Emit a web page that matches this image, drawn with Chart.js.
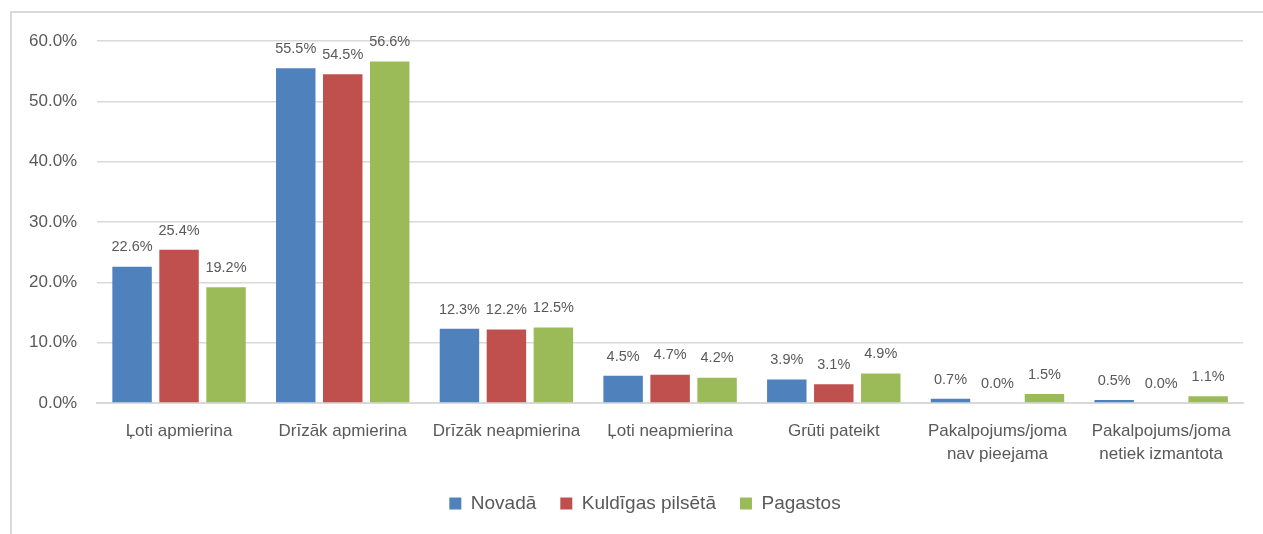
<!DOCTYPE html>
<html>
<head>
<meta charset="utf-8">
<script src="https://cdn.jsdelivr.net/npm/chart.js@4.4.1/dist/chart.umd.min.js"></script>
<style>
    body { margin: 0; background: #fff; overflow: hidden; }
    #frame {
        position: absolute; left: 10px; top: 11px;
        width: 1300px; height: 600px;
        border: 2px solid #d9d9d9; box-sizing: border-box;
    }
    #wrap { position: absolute; left: 0; top: 0; width: 1263px; height: 534px; }
</style>
</head>
<body>
<div id="frame"></div>
<div id="wrap"><canvas id="chartApmierinatiba"></canvas></div>
<script>
// Kategorijas (x ass)
const kategorijas = [
    'Ļoti apmierina',
    'Drīzāk apmierina',
    'Drīzāk neapmierina',
    'Ļoti neapmierina',
    'Grūti pateikt',
    ['Pakalpojums/joma', 'nav pieejama'],
    ['Pakalpojums/joma', 'netiek izmantota']
];

// Sērijas
const novada = [22.6, 55.5, 12.3, 4.5, 3.9, 0.7, 0.5];
const kuldigasPilseta = [25.4, 54.5, 12.2, 4.7, 3.1, 0.0, 0.0];
const pagastos = [19.2, 56.6, 12.5, 4.2, 4.9, 1.5, 1.1];

const serijuNosaukumi = ['Novadā', 'Kuldīgas pilsētā', 'Pagastos'];
const yTicks = [0, 10, 20, 30, 40, 50, 60];

const colores = {
    zils: '#4f81bd',
    sarkans: '#c0504d',
    zals: '#9bbb59',
    teksts: '#595959',
    rezgis: '#d9d9d9'
};
const fonts = '"Liberation Sans", Arial, sans-serif';

// Vērtību etiķetes virs stabiņiem
const vertibuEtiketes = {
    id: 'vertibuEtiketes',
    afterDatasetsDraw(chart) {
        const ctx = chart.ctx;
        ctx.save();
        ctx.font = '14.5px ' + fonts;
        ctx.fillStyle = colores.teksts;
        ctx.textAlign = 'center';
        ctx.textBaseline = 'bottom';
        chart.data.datasets.forEach((ds, i) => {
            const meta = chart.getDatasetMeta(i);
            meta.data.forEach((bar, j) => {
                ctx.fillText(ds.data[j].toFixed(1) + '%', bar.x, bar.y - 12);
            });
        });
        ctx.restore();
    }
};

// Leģendu nobīda nedaudz pa labi (kā oriģinālā)
const legendasNobide = {
    id: 'legendasNobide',
    afterLayout(chart) {
        if (chart.legend) {
            chart.legend.left += 19;
            chart.legend.right += 19;
        }
    }
};

const ctx = document.getElementById('chartApmierinatiba').getContext('2d');
new Chart(ctx, {
    type: 'bar',
    data: {
        labels: kategorijas,
        datasets: [
            { label: serijuNosaukumi[0], data: novada, backgroundColor: colores.zils },
            { label: serijuNosaukumi[1], data: kuldigasPilseta, backgroundColor: colores.sarkans },
            { label: serijuNosaukumi[2], data: pagastos, backgroundColor: colores.zals }
        ]
    },
    options: {
        responsive: true,
        maintainAspectRatio: false,
        animation: false,
        categoryPercentage: 0.861,
        barPercentage: 0.84,
        layout: {
            padding: { top: 41, right: 20, left: 9, bottom: 11 }
        },
        plugins: {
            legend: {
                position: 'bottom',
                labels: {
                    boxWidth: 12,
                    boxHeight: 12,
                    padding: 24,
                    color: colores.teksts,
                    font: { family: fonts, size: 19 }
                }
            },
            tooltip: { enabled: false }
        },
        scales: {
            y: {
                min: 0,
                max: 60,
                afterBuildTicks: axis => { axis.ticks = yTicks.map(v => ({ value: v })); },
                ticks: {
                    padding: 20,
                    color: colores.teksts,
                    font: { family: fonts, size: 17 },
                    callback: v => v.toFixed(1) + '%'
                },
                border: { display: false },
                grid: { color: colores.rezgis, lineWidth: 1.5, drawTicks: false }
            },
            x: {
                afterFit: axis => { axis.height = 67; },
                ticks: {
                    padding: 17,
                    color: colores.teksts,
                    font: { family: fonts, size: 17, lineHeight: 1.35 },
                    maxRotation: 0
                },
                border: { color: colores.rezgis, width: 2 },
                grid: { display: false, drawTicks: false }
            }
        }
    },
    plugins: [vertibuEtiketes, legendasNobide]
});
</script>
</body>
</html>
